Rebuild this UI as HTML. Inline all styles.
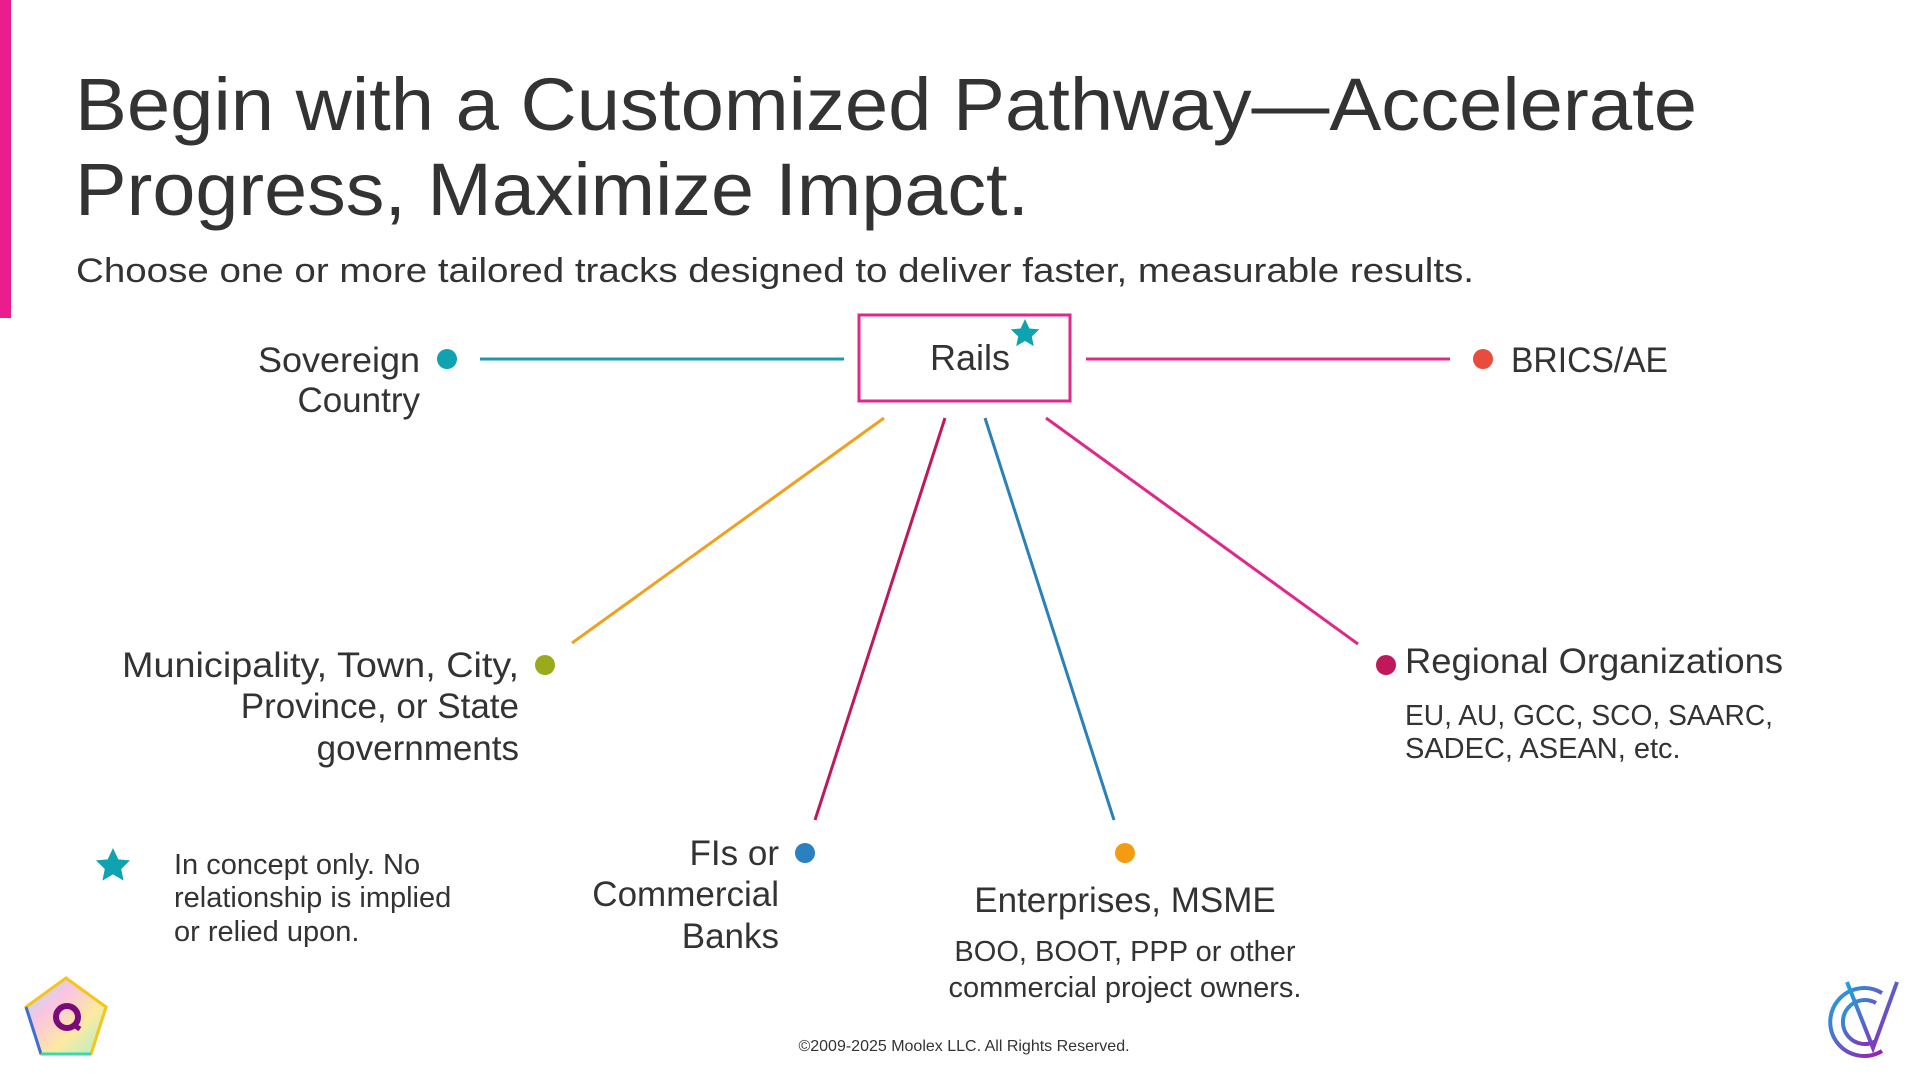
<!DOCTYPE html>
<html><head><meta charset="utf-8"><style>
html,body{margin:0;padding:0;background:#fff;}
svg{display:block}
text{font-family:"Liberation Sans",sans-serif;fill:#333;}
</style></head><body>
<svg width="1920" height="1080" viewBox="0 0 1920 1080" xmlns="http://www.w3.org/2000/svg">
<rect x="0" y="0" width="11" height="318" fill="#e91e8c"/>
<text x="75" y="130" font-size="74" textLength="1622" lengthAdjust="spacingAndGlyphs">Begin with a Customized Pathway—Accelerate</text>
<text x="75" y="215" font-size="74" textLength="954" lengthAdjust="spacingAndGlyphs">Progress, Maximize Impact.</text>
<text x="76" y="282" font-size="34" textLength="1398" lengthAdjust="spacingAndGlyphs" fill="#111">Choose one or more tailored tracks designed to deliver faster, measurable results.</text>

<rect x="859" y="315" width="211" height="86" fill="none" stroke="#dd2a8a" stroke-width="3"/>
<text x="970" y="370" font-size="36" text-anchor="middle">Rails</text>
<polygon fill="#0fa3b1" transform="translate(1025,334)" points="0,-15 4.4,-5.5 14.3,-4.6 6.8,2.5 8.8,12.1 0,7 -8.8,12.1 -6.8,2.5 -14.3,-4.6 -4.4,-5.5"/>

<line x1="480" y1="359" x2="844" y2="359" stroke="#1a9aaa" stroke-width="3"/>
<line x1="1086" y1="359" x2="1450" y2="359" stroke="#dd2a8a" stroke-width="3"/>
<line x1="884" y1="418" x2="572" y2="643" stroke="#f0a020" stroke-width="3"/>
<line x1="945" y1="418" x2="815" y2="820" stroke="#c0185a" stroke-width="3"/>
<line x1="985" y1="418" x2="1114" y2="820" stroke="#2a80b9" stroke-width="3"/>
<line x1="1046" y1="418" x2="1358" y2="644" stroke="#dd2a8a" stroke-width="3"/>

<circle cx="447" cy="359" r="10" fill="#0fa3b1"/>
<circle cx="1483" cy="359" r="10" fill="#e74c3c"/>
<circle cx="545" cy="665" r="10" fill="#9aaa1a"/>
<circle cx="805" cy="853" r="10" fill="#2a80c0"/>
<circle cx="1125" cy="853" r="10" fill="#f39c12"/>
<circle cx="1386" cy="665" r="10" fill="#c0185a"/>

<g font-size="35" text-anchor="end">
<text x="420" y="372" textLength="162" lengthAdjust="spacingAndGlyphs">Sovereign</text>
<text x="420" y="412">Country</text>
<text x="519" y="677" textLength="397" lengthAdjust="spacingAndGlyphs">Municipality, Town, City,</text>
<text x="519" y="718">Province, or State</text>
<text x="519" y="760">governments</text>
<text x="779" y="865">FIs or</text>
<text x="779" y="906">Commercial</text>
<text x="779" y="948">Banks</text>
</g>
<text x="1511" y="372" font-size="35" textLength="157" lengthAdjust="spacingAndGlyphs">BRICS/AE</text>
<text x="1405" y="673" font-size="35" textLength="378" lengthAdjust="spacingAndGlyphs">Regional Organizations</text>
<text x="1405" y="725" font-size="29" textLength="368" lengthAdjust="spacingAndGlyphs">EU, AU, GCC, SCO, SAARC,</text>
<text x="1405" y="758" font-size="29">SADEC, ASEAN, etc.</text>
<text x="1125" y="912" font-size="35" text-anchor="middle">Enterprises, MSME</text>
<text x="1125" y="961" font-size="29" text-anchor="middle" fill="#111">BOO, BOOT, PPP or other</text>
<text x="1125" y="997" font-size="29" text-anchor="middle" fill="#111">commercial project owners.</text>

<polygon fill="#0fa3b1" transform="translate(113,866)" points="0,-18 5.3,-6.6 17.1,-5.6 8.2,3 10.6,14.6 0,8.4 -10.6,14.6 -8.2,3 -17.1,-5.6 -5.3,-6.6"/>
<g font-size="29">
<text x="174" y="874">In concept only. No</text>
<text x="174" y="907">relationship is implied</text>
<text x="174" y="941">or relied upon.</text>
</g>
<text x="964" y="1051" font-size="16" text-anchor="middle" fill="#666">©2009-2025 Moolex LLC. All Rights Reserved.</text>

<defs>
<linearGradient id="pg" x1="0" y1="0" x2="1" y2="1"><stop offset="0" stop-color="#a5e3f3"/><stop offset=".35" stop-color="#fbc4e0"/><stop offset=".65" stop-color="#fdeaa0"/><stop offset="1" stop-color="#a7f0cf"/></linearGradient>
<linearGradient id="cg" x1="0" y1="0" x2="1" y2="1"><stop offset="0" stop-color="#1aa7e0"/><stop offset="1" stop-color="#9b1bb5"/></linearGradient>
</defs>
<polygon points="66,978 106,1007 91,1054 41,1054 26,1007" fill="url(#pg)" stroke="#f5c518" stroke-width="3"/>
<line x1="26" y1="1007" x2="41" y2="1054" stroke="#3a6fd8" stroke-width="3"/>
<line x1="41" y1="1054" x2="91" y2="1054" stroke="#3ad8b0" stroke-width="3"/>
<circle cx="67" cy="1017" r="11" fill="none" stroke="#7a0a7a" stroke-width="6"/>
<line x1="72" y1="1024" x2="80" y2="1029" stroke="#7a0a7a" stroke-width="5"/>

<g fill="none" stroke="url(#cg)" stroke-width="4">
<path d="M1882,993 A34,34 0 1 0 1882,1051"/>
<path d="M1876,1003 A22,22 0 1 0 1876,1041"/>
<path d="M1847,982 L1873,1048 L1897,982"/>
<line x1="1855" y1="1007" x2="1892" y2="1007"/>
</g>
</svg>
</body></html>
